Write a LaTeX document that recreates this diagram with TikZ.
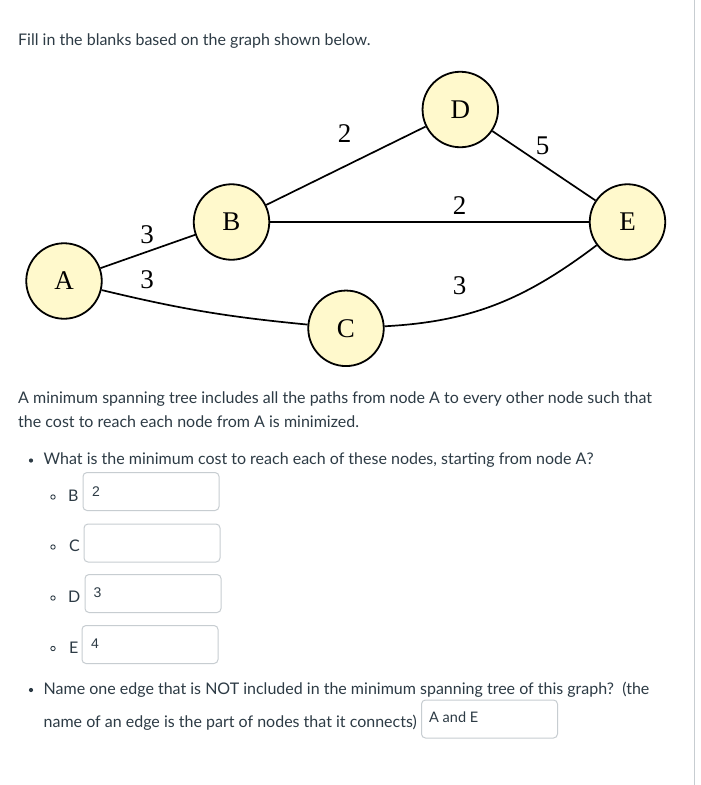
\documentclass[tikz,border=0pt]{standalone}
\usepackage{fontspec}
\setmainfont{Lato}
\newfontfamily\timesf{Liberation Serif}
\newfontfamily\arialf{Liberation Sans}
\definecolor{textc}{RGB}{45,59,69}
\definecolor{boxc}{RGB}{199,205,209}
\definecolor{nodefill}{RGB}{255,249,204}
\definecolor{rulec}{RGB}{199,205,209}
\tikzset{
  gnode/.style={circle,draw=black,line width=1.8pt,fill=nodefill,minimum size=75.5pt,inner sep=0pt,font=\timesf\fontsize{27}{27}\selectfont},
  glabel/.style={inner sep=0pt,font=\timesf\fontsize{27}{27}\selectfont},
  gedge/.style={draw=black,line width=1.7pt},
  body/.style={inner sep=0pt,anchor=base west,text=textc,font=\fontsize{16}{24}\selectfont},
  ansbox/.style={draw=boxc,line width=1pt,rounded corners=4pt,fill=white,minimum width=136pt,minimum height=38pt,inner sep=0pt,anchor=north west},
  anstext/.style={inner sep=0pt,anchor=base west,text=textc,font=\arialf\fontsize{14}{14}\selectfont},
  anstextl/.style={inner sep=0pt,anchor=base west,text=textc,font=\fontsize{14.5}{14}\selectfont},
  subbullet/.style={circle,draw=textc,line width=0.9pt,minimum size=4.4pt,inner sep=0pt},
  mainbullet/.style={circle,fill=textc,minimum size=4.2pt,inner sep=0pt},
}
\begin{document}
\begin{tikzpicture}[x=1pt,y=-1pt]
\useasboundingbox (0,0) rectangle (701,785);
\fill[white] (0,0) rectangle (701,785);
\draw[rulec,line width=1pt] (694,0) -- (694,785);

\node[body] (title) at (18,45.5) {Fill in the blanks based on the graph shown below.};

% graph
\node[gnode] (A) at (64,281) {A};
\node[gnode] (B) at (231.5,222) {B};
\node[gnode] (C) at (346,328.3) {C};
\node[gnode] (D) at (460.3,109.5) {D};
\node[gnode] (E) at (627.5,222) {E};
\draw[gedge] (A) -- (B);
\draw[gedge] (A) to[bend right=4] (C);
\draw[gedge] (B) -- (D);
\draw[gedge] (B) -- (E);
\draw[gedge] (D) -- (E);
\draw[gedge] (C) to[out=3,in=217] (E);
\node[glabel] (lBD) at (344.5,134) {2};
\node[glabel] (lDE) at (542.5,146) {5};
\node[glabel] (lBE) at (459.7,206) {2};
\node[glabel] (lAB) at (147,235) {3};
\node[glabel] (lAC) at (147,280) {3};
\node[glabel] (lCE) at (459.5,286) {3};

% text
\node[body] (p1) at (18,403.5) {A minimum spanning tree includes all the paths from node A to every other node such that};
\node[body] (p2) at (18,427.5) {the cost to reach each node from A is minimized.};
\node[mainbullet] (b1) at (31,460.5) {};
\node[body] (q1) at (43.5,464.5) {What is the minimum cost to reach each of these nodes, starting from node A?};

\node[subbullet] (sB) at (53,497) {};
\node[body] (tB) at (68,501.5) {B};
\node[ansbox] (bxB) at (82.5,472) {};
\node[anstext] (vB) at (92,496.5) {2};

\node[subbullet] (sC) at (53,547) {};
\node[body] (tC) at (69,551.5) {C};
\node[ansbox] (bxC) at (83.5,523.5) {};

\node[subbullet] (sD) at (53,598) {};
\node[body] (tD) at (68,602.5) {D};
\node[ansbox] (bxD) at (84.5,574) {};
\node[anstext] (vD) at (93.5,597.5) {3};

\node[subbullet] (sE) at (53,648.5) {};
\node[body] (tE) at (69,653.5) {E};
\node[ansbox] (bxE) at (81.5,625) {};
\node[anstext] (vE) at (91,648) {4};

\node[mainbullet] (b2) at (31,690) {};
\node[body] (q2a) at (43.5,694) {Name one edge that is NOT included in the minimum spanning tree of this graph?\ \ (the};
\node[body] (q2b) at (43.5,727) {name of an edge is the part of nodes that it connects)};
\node[ansbox,minimum width=136pt] (bxF) at (421,699.5) {};
\node[anstextl] (vF) at (429,722.5) {A and E};
\end{tikzpicture}
\end{document}
